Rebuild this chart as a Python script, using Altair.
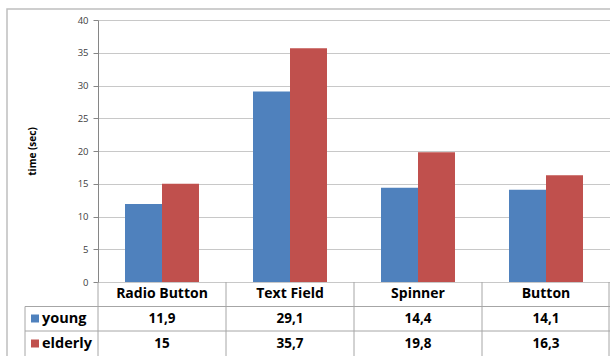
import altair as alt
import pandas as pd

# Completion time per widget type and age group
categories = ["Radio Button", "Text Field", "Spinner", "Button"]
groups = ["young", "elderly"]
young = [11.9, 29.1, 14.4, 14.1]
elderly = [15, 35.7, 19.8, 16.3]
y_ticks = [0, 5, 10, 15, 20, 25, 30, 35, 40]
colors = ["#4F81BD", "#C0504D"]

rows = []
for cat, yv, ev in zip(categories, young, elderly):
    rows.append({"category": cat, "group": "young", "value": yv})
    rows.append({"category": cat, "group": "elderly", "value": ev})
df = pd.DataFrame(rows)
cat_df = pd.DataFrame({"category": categories})
grp_df = pd.DataFrame({"group": groups})
one = pd.DataFrame({"k": [0]})

W, H = 512, 262
FONT = "Open Sans"
LINE = "#A6A6A6"

x_enc = alt.X("category:N", sort=categories, axis=None,
              scale=alt.Scale(paddingInner=0, paddingOuter=0))
color_scale = alt.Scale(domain=groups, range=colors)

base = alt.Chart(df)

bars = base.mark_bar().encode(
    x=x_enc,
    xOffset=alt.XOffset("group:N", sort=groups,
                        scale=alt.Scale(paddingInner=0, paddingOuter=0.73)),
    y=alt.Y("value:Q",
            scale=alt.Scale(domain=[0, 40], nice=False),
            axis=alt.Axis(values=y_ticks, title="time (sec)", titleX=-66,
                          titleY=H / 2, titleAngle=270, titleAlign="center",
                          titleBaseline="middle", titleFontSize=10,
                          titleFontWeight="bold", titleColor="#000000",
                          titleFont=FONT, labelFont=FONT, labelFontSize=9.5,
                          labelColor="#404040", labelPadding=5, tickSize=5,
                          tickColor="#868686", domainColor="#868686",
                          gridColor="#C8C8C8")),
    color=alt.Color("group:N", scale=color_scale, legend=None),
)

# data table under the plot
header = alt.Chart(cat_df).mark_text(fontWeight="bold", fontSize=14, font=FONT,
                                     color="#000000").encode(
    x=x_enc, y=alt.value(274), text="category:N")

label_expr = "replace(toString(datum.value), '.', ',')"
young_txt = base.transform_filter(alt.datum.group == "young").transform_calculate(
    label=label_expr).mark_text(fontWeight="bold", fontSize=13.5, font=FONT,
                                color="#000000").encode(
    x=x_enc, y=alt.value(298.5), text="label:N")
elderly_txt = base.transform_filter(alt.datum.group == "elderly").transform_calculate(
    label=label_expr).mark_text(fontWeight="bold", fontSize=13.5, font=FONT,
                                color="#000000").encode(
    x=x_enc, y=alt.value(323.5), text="label:N")

vlines = alt.Chart(cat_df).mark_rule(color=LINE).encode(
    x=alt.X("category:N", sort=categories, bandPosition=0, axis=None),
    y=alt.value(262), y2=alt.value(340))
vline_end = alt.Chart(one).mark_rule(color=LINE).encode(
    x=alt.value(W - 1), y=alt.value(262), y2=alt.value(340))
vline_legend = alt.Chart(one).mark_rule(color=LINE).encode(
    x=alt.value(-73), y=alt.value(286.5), y2=alt.value(340))
hline1 = alt.Chart(one).mark_rule(color=LINE).encode(
    x=alt.value(-73), x2=alt.value(W), y=alt.value(286.5))
hline2 = alt.Chart(one).mark_rule(color=LINE).encode(
    x=alt.value(-73), x2=alt.value(W), y=alt.value(311))

# legend keys inside the table's first column
key_young = alt.Chart(grp_df).transform_filter(alt.datum.group == "young").mark_square(
    size=64, opacity=1).encode(x=alt.value(-63), y=alt.value(298.5),
                               color=alt.Color("group:N", scale=color_scale, legend=None))
key_elderly = alt.Chart(grp_df).transform_filter(alt.datum.group == "elderly").mark_square(
    size=64, opacity=1).encode(x=alt.value(-63), y=alt.value(323.5),
                               color=alt.Color("group:N", scale=color_scale, legend=None))
name_young = alt.Chart(grp_df).transform_filter(alt.datum.group == "young").mark_text(
    align="left", fontWeight="bold", fontSize=14.5, font=FONT, color="#000000").encode(
    x=alt.value(-56), y=alt.value(298.5), text="group:N")
name_elderly = alt.Chart(grp_df).transform_filter(alt.datum.group == "elderly").mark_text(
    align="left", fontWeight="bold", fontSize=14.5, font=FONT, color="#000000").encode(
    x=alt.value(-56), y=alt.value(323.5), text="group:N")

frame = alt.Chart(one).mark_rect(fill=None, stroke="#BFBFBF", strokeWidth=1.5).encode(
    x=alt.value(-91), x2=alt.value(530), y=alt.value(-11), y2=alt.value(360))

chart = alt.layer(
    frame, bars, vlines, vline_end, vline_legend, hline1, hline2,
    header, young_txt, elderly_txt, key_young, key_elderly, name_young, name_elderly,
).properties(
    width=W, height=H,
    autosize=alt.AutoSizeParams(type="none"),
    padding={"left": 98, "top": 20, "right": 0, "bottom": 74},
    background="white",
).configure_view(stroke=None)

chart.save("out.html", embed_options={"renderer": "svg", "actions": False})
